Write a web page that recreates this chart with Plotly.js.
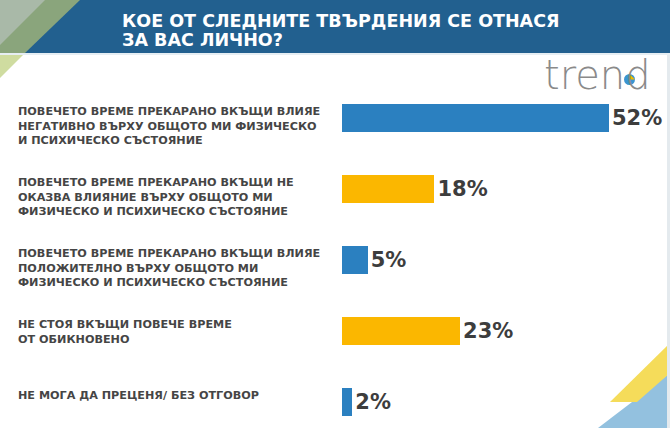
<!DOCTYPE html>
<html>
<head>
<meta charset="utf-8">
<script src="https://cdn.plot.ly/plotly-3.0.1.min.js"></script>
<style>
html,body{margin:0;padding:0;background:#fff;}
#chart{width:670px;height:428px;}
</style>
</head>
<body>
<div id="chart"></div>
<script>
// ---- data ----
const titleLines = ["КОЕ ОТ СЛЕДНИТЕ ТВЪРДЕНИЯ СЕ ОТНАСЯ", "ЗА ВАС ЛИЧНО?"];
const categories = [
  "ПОВЕЧЕТО ВРЕМЕ ПРЕКАРАНО ВКЪЩИ ВЛИЯЕ<br>НЕГАТИВНО ВЪРХУ ОБЩОТО МИ ФИЗИЧЕСКО<br>И ПСИХИЧЕСКО СЪСТОЯНИЕ",
  "ПОВЕЧЕТО ВРЕМЕ ПРЕКАРАНО ВКЪЩИ НЕ<br>ОКАЗВА ВЛИЯНИЕ ВЪРХУ ОБЩОТО МИ<br>ФИЗИЧЕСКО И ПСИХИЧЕСКО СЪСТОЯНИЕ",
  "ПОВЕЧЕТО ВРЕМЕ ПРЕКАРАНО ВКЪЩИ ВЛИЯЕ<br>ПОЛОЖИТЕЛНО ВЪРХУ ОБЩОТО МИ<br>ФИЗИЧЕСКО И ПСИХИЧЕСКО СЪСТОЯНИЕ",
  "НЕ СТОЯ ВКЪЩИ ПОВЕЧЕ ВРЕМЕ<br>ОТ ОБИКНОВЕНО",
  "НЕ МОГА ДА ПРЕЦЕНЯ/ БЕЗ ОТГОВОР"
];
const values = [52, 18, 5, 23, 2];
const valueLabels = ["52%", "18%", "5%", "23%", "2%"];
const logoText = "trend";

// ---- style ----
const BLUE = "#2b80c0", YELLOW = "#fbb700";
const barColors = [BLUE, YELLOW, BLUE, YELLOW, BLUE];
const W = 670, H = 428;
const M = {l: 342, r: 20, t: 90, b: 0};
const PW = W - M.l - M.r, PH = H - M.t - M.b;
const px = x => (x - M.l) / PW;
const py = y => (H - M.b - y) / PH;
const barW = 0.394;
const idx = values.map((_, i) => i);

function poly(pts, color) {
  return {type: "path", xref: "paper", yref: "paper", layer: "below",
    path: "M" + pts.map(p => px(p[0]).toFixed(5) + "," + py(p[1]).toFixed(5)).join(" L") + " Z",
    fillcolor: color, line: {width: 0}};
}

const trace = {
  type: "bar", orientation: "h",
  x: values, y: idx,
  width: barW,
  marker: {color: barColors, line: {width: 0}},
  text: valueLabels, textposition: "outside", cliponaxis: false,
  textfont: {family: "DejaVu Sans", size: 21, color: "#3d3d3d", weight: "bold"},
  hoverinfo: "skip"
};

const annotations = categories.map((c, i) => ({
  xref: "paper", yref: "y", x: px(17), y: i - barW / 2,
  xanchor: "left", yanchor: "top", align: "left", showarrow: false,
  text: c, borderpad: 0,
  font: {family: "DejaVu Sans", size: 11.2, color: "#454545", weight: "bold"}
}));
titleLines.forEach((t, i) => annotations.push({
  xref: "paper", yref: "paper", x: px(121), y: py(21 + 19 * i),
  xanchor: "left", yanchor: "middle", showarrow: false, text: t, borderpad: 0,
  font: {family: "DejaVu Sans", size: 17.5, color: "#ffffff", weight: "bold"}
}));
annotations.push({
  xref: "paper", yref: "paper", x: px(543), y: py(99), xanchor: "left", yanchor: "bottom",
  showarrow: false, text: logoText, borderpad: 0,
  font: {family: "DejaVu Sans ExtraLight, DejaVu Sans", size: 40, color: "#8a8a8a", weight: 300}
});

const shapes = [
  // header band
  {type: "rect", xref: "paper", yref: "paper", layer: "below",
   x0: px(0), x1: px(670), y0: py(0), y1: py(53), fillcolor: "#22608f", line: {width: 0}},
  // left decoration
  poly([[0,0],[80,0],[25,53],[0,53]], "#8aa57c"),
  poly([[0,0],[45,0],[0,45]], "#a9b9a8"),
  poly([[0,53],[25,53],[0,78]], "#cfdca0"),
  // light divider under header
  {type: "rect", xref: "paper", yref: "paper", layer: "below",
   x0: px(0), x1: px(670), y0: py(53), y1: py(55), fillcolor: "#e6eef3", line: {width: 0}},
  // bottom-right decoration
  poly([[598,428],[670,428],[670,373]], "#93c1df"),
  poly([[610,402],[637,402],[670,373],[670,343]], "#f5dc5a"),
  // right edge line
  {type: "rect", xref: "paper", yref: "paper", layer: "below",
   x0: px(667), x1: px(670), y0: py(55), y1: py(428), fillcolor: "#e4eaee", line: {width: 0}},
  // logo dot in the "d"
  {type: "circle", xref: "paper", yref: "paper", layer: "above",
   x0: px(624), x1: px(635), y0: py(74), y1: py(85), fillcolor: "#3b95d0", line: {width: 0}},
  {type: "path", xref: "paper", yref: "paper", layer: "above",
   path: "M" + px(629.5) + "," + py(79.5) + " L" + px(629.5) + "," + py(74) + " L" + px(635) + "," + py(79.5) + " Z",
   fillcolor: "#f4b800", line: {width: 0}}
];

const layout = {
  width: W, height: H,
  margin: M,
  paper_bgcolor: "#ffffff", plot_bgcolor: "rgba(0,0,0,0)",
  showlegend: false,
  xaxis: {range: [0, 60], visible: false, fixedrange: true},
  yaxis: {type: "linear", range: [4.366, -0.394], visible: false, fixedrange: true},
  annotations: annotations,
  shapes: shapes,
  bargap: 0
};

Plotly.newPlot("chart", [trace], layout, {displayModeBar: false, staticPlot: true});
</script>
</body>
</html>
